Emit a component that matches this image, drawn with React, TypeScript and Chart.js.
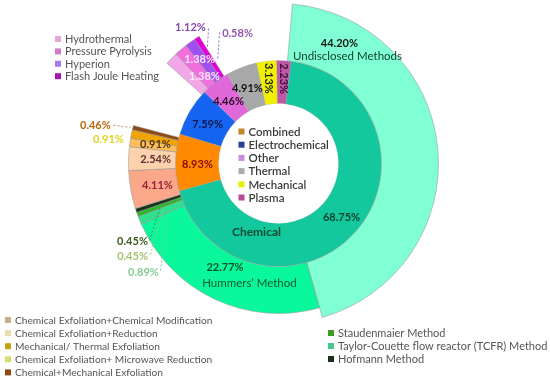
import React, { useEffect, useRef } from 'react';
import { Chart, registerables } from 'chart.js';

Chart.register(...registerables);

// ---------- DATA ----------
const categories = ['Chemical', 'Combined', 'Electrochemical', 'Other', 'Thermal', 'Mechanical', 'Plasma'];
const categoryShares = [68.75, 8.93, 7.59, 4.46, 4.91, 3.13, 2.23];

const chemicalMethods = [
  'Undisclosed Methods',
  "Hummers\u2019 Method",
  'Taylor-Couette flow reactor (TCFR) Method',
  'Staudenmaier Method',
  'Hofmann Method',
];
const chemicalShares = [44.2, 22.77, 0.89, 0.45, 0.45];

const combinedMethods = [
  'Chemical Exfoliation+Chemical Modification',
  'Chemical Exfoliation+Reduction',
  'Mechanical/ Thermal Exfoliation',
  'Chemical Exfoliation+ Microwave Reduction',
  'Chemical+Mechanical Exfoliation',
];
const combinedShares = [4.11, 2.54, 0.91, 0.91, 0.46];

const otherMethods = ['Hydrothermal', 'Pressure Pyrolysis', 'Hyperion', 'Flash Joule Heating'];
const otherShares = [1.38, 1.38, 1.12, 0.58];

// ---------- STYLE ----------
const FONT = 'Lato, "Open Sans", sans-serif';
const DESIGN_R = 160;

const categoryColors = ['#13C89C', '#FF8A00', '#1565F2', '#E068D8', '#A8A8A8', '#F0F000', '#C058A8'];
const categoryLegendColors = ['#13C89C', '#C4862C', '#27409C', '#C88CD8', '#ABABAB', '#E4F000', '#B94A9A'];
const chemicalColors = ['#80FFD4', '#0AF79C', '#2FE08E', '#28B828', '#183818'];
const chemicalLegendColors = ['#80FFD4', '#0AF79C', '#44C98E', '#3A9E22', '#1A2E1A'];
const combinedColors = ['#FBA88A', '#FFD2AE', '#FFBE5C', '#F0A400', '#8E4A12'];
const combinedLegendColors = ['#BFB08E', '#E8DCAE', '#C6A210', '#D8DE6E', '#8E4A12'];
const otherColors = ['#F2A8E8', '#F06EDE', '#A050F0', '#E400DC'];
const otherLegendColors = ['#E3A6D6', '#D57AC6', '#A77BE8', '#A515B0'];

const fullReach = 1;
const shortReach = 47 / 57;

const subGroups: Record<string, { shares: number[]; colors: string[]; reach: number[] }> = {
  Chemical: { shares: chemicalShares, colors: chemicalColors, reach: [fullReach, shortReach, shortReach, shortReach, shortReach] },
  Combined: { shares: combinedShares, colors: combinedColors, reach: combinedShares.map(() => shortReach) },
  Other: { shares: otherShares, colors: otherColors, reach: otherShares.map(() => shortReach) },
};

const outerValues: number[] = [];
const outerColors: string[] = [];
const outerBorders: number[] = [];
const outerReach: number[] = [];
categories.forEach((c, i) => {
  const g = subGroups[c];
  if (g) {
    g.shares.forEach((v, j) => {
      outerValues.push(v);
      outerColors.push(g.colors[j]);
      outerBorders.push(1);
      outerReach.push(g.reach[j]);
    });
  } else {
    outerValues.push(categoryShares[i]);
    outerColors.push('rgba(0,0,0,0)');
    outerBorders.push(0);
    outerReach.push(0);
  }
});

const pct = (v: number) => `${v.toFixed(2)}%`;

type Lbl = { text: string; ang: number; r: number; color: string; weight?: string; size?: number; rot?: number };
const labels: Lbl[] = [
  { text: pct(chemicalShares[0]), ang: 26.9, r: 134.6, color: '#151515' },
  { text: chemicalMethods[0], ang: 32.8, r: 127.3, color: '#0E3B30', weight: 'normal', size: 11.5 },
  { text: pct(categoryShares[0]), ang: 130.6, r: 83, color: '#0B3F2C' },
  { text: categories[0], ang: 197.7, r: 72.4, color: '#0B4A30', size: 12 },
  { text: pct(chemicalShares[1]), ang: 207.2, r: 117, color: '#0A5522' },
  { text: chemicalMethods[1], ang: 193.6, r: 123.5, color: '#0E5A32', weight: 'normal', size: 11.5 },
  { text: pct(categoryShares[1]), ang: 269.3, r: 81, color: '#8A0A0A' },
  { text: pct(categoryShares[2]), ang: 298.8, r: 81, color: '#0A1A4A' },
  { text: pct(categoryShares[3]), ang: 321.1, r: 79.6, color: '#2A0A2A' },
  { text: pct(categoryShares[4]), ang: 337.5, r: 81, color: '#111111' },
  { text: pct(categoryShares[5]), ang: 353.3, r: 85.6, color: '#222222', rot: 90 },
  { text: pct(categoryShares[6]), ang: 3.4, r: 85, color: '#3A0E3A', rot: 90 },
  { text: pct(otherShares[0]), ang: 322.8, r: 130.6, color: '#FFE6FF' },
  { text: pct(otherShares[1]), ang: 319.6, r: 114.2, color: '#FFE6FF' },
  { text: pct(otherShares[2]), ang: 327.1, r: 162, color: '#8A48A8' },
  { text: pct(otherShares[3]), ang: 342.5, r: 136.3, color: '#9456B0' },
  { text: pct(combinedShares[4]), ang: 281.7, r: 187, color: '#B8660E' },
  { text: pct(combinedShares[3]), ang: 278, r: 171.7, color: '#E2D21C' },
  { text: pct(combinedShares[2]), ang: 278.8, r: 124.5, color: '#4E3410' },
  { text: pct(combinedShares[1]), ang: 271.9, r: 123, color: '#5A3434' },
  { text: pct(combinedShares[0]), ang: 259.7, r: 123, color: '#9A2038' },
  { text: pct(chemicalShares[4]), ang: 241.9, r: 165.5, color: '#3A5A1E' },
  { text: pct(chemicalShares[3]), ang: 237.5, r: 173.1, color: '#A6C46E' },
  { text: pct(chemicalShares[2]), ang: 231.1, r: 173.5, color: '#84CC94' },
];

const leaders = [
  { from: [332.6, 152], to: [328.7, 136.9], color: '#9A6AB8' },
  { from: [335.8, 143.7], to: [329.4, 119.7], color: '#9A6AB8' },
  { from: [283, 169.3], to: [283.7, 152.3], color: '#C09050' },
  { from: [239.2, 150.2], to: [250, 125.6], color: '#5A8A4A' },
  { from: [234.6, 157], to: [248.6, 123.5], color: '#9AC07A' },
  { from: [227.8, 159.3], to: [246.9, 119.6], color: '#7ACB94' },
];

type LegendBlock = { names: string[]; colors: string[]; x: number; y: number; step: number; size: number; weight: string; color: string; relCenter?: boolean };
const legendBlocks: LegendBlock[] = [
  { names: otherMethods, colors: otherLegendColors, x: 55, y: 39, step: 12.4, size: 11, weight: 'normal', color: '#555555' },
  { names: categories.slice(1), colors: categoryLegendColors.slice(1), x: -40, y: -32, step: 13.2, size: 11.5, weight: '600', color: '#3A3A3A', relCenter: true },
  { names: combinedMethods, colors: combinedLegendColors, x: 5, y: 320, step: 13.1, size: 10.2, weight: 'normal', color: '#555555' },
  { names: [chemicalMethods[3], chemicalMethods[2], chemicalMethods[4]], colors: [chemicalLegendColors[3], chemicalLegendColors[2], chemicalLegendColors[4]], x: 328, y: 333, step: 13, size: 11, weight: 'normal', color: '#555555' },
];

const reachPlugin = {
  id: 'reach',
  afterDatasetUpdate(chart: any, args: any) {
    if (args.index !== 0) return;
    args.meta.data.forEach((el: any, i: number) => {
      const inner = el.innerRadius;
      const outer = el.outerRadius;
      el.outerRadius = inner + (outer - inner) * outerReach[i];
    });
  },
};

const overlayPlugin = {
  id: 'overlay',
  afterDatasetsDraw(chart: any) {
    const ctx: CanvasRenderingContext2D = chart.ctx;
    const meta = chart.getDatasetMeta(0);
    const arc = meta.data[0];
    const cx = arc.x;
    const cy = arc.y;
    const k = meta.controller.outerRadius / DESIGN_R;
    const pt = (ang: number, r: number) => {
      const a = ((ang - 90) * Math.PI) / 180;
      return [cx + Math.cos(a) * r * k, cy + Math.sin(a) * r * k];
    };
    ctx.save();
    ctx.lineWidth = 1;
    ctx.setLineDash([2, 2]);
    leaders.forEach((l) => {
      const [x1, y1] = pt(l.from[0], l.from[1]);
      const [x2, y2] = pt(l.to[0], l.to[1]);
      ctx.strokeStyle = l.color;
      ctx.beginPath();
      ctx.moveTo(x1, y1);
      ctx.lineTo(x2, y2);
      ctx.stroke();
    });
    ctx.setLineDash([]);
    ctx.textAlign = 'center';
    ctx.textBaseline = 'middle';
    labels.forEach((l) => {
      const [x, y] = pt(l.ang, l.r);
      ctx.save();
      ctx.translate(x, y);
      if (l.rot) ctx.rotate((l.rot * Math.PI) / 180);
      ctx.font = `${l.weight || 'bold'} ${l.size || 11}px ${FONT}`;
      ctx.fillStyle = l.color;
      ctx.fillText(l.text, 0, 0);
      ctx.restore();
    });
    ctx.textAlign = 'left';
    legendBlocks.forEach((b) => {
      const ox = b.relCenter ? cx + b.x : b.x;
      const oy = b.relCenter ? cy + b.y : b.y;
      ctx.font = `${b.weight} ${b.size}px ${FONT}`;
      b.names.forEach((n, i) => {
        const y = oy + i * b.step;
        ctx.fillStyle = b.colors[i];
        ctx.fillRect(ox, y - 3, 6, 6);
        ctx.fillStyle = b.color;
        ctx.fillText(n, ox + 10, y + 0.5);
      });
    });
    ctx.restore();
  },
};

export default function App() {
  const ref = useRef<HTMLCanvasElement>(null);
  useEffect(() => {
    if (!ref.current) return;
    const chart = new Chart(ref.current, {
      type: 'doughnut',
      data: {
        labels: outerValues.map((_, i) => String(i)),
        datasets: [
          {
            data: outerValues,
            backgroundColor: outerColors,
            borderColor: 'rgba(150,150,150,0.55)',
            borderWidth: outerBorders,
            weight: 57,
            rotation: 5,
          } as any,
          {
            data: categoryShares,
            backgroundColor: categoryColors,
            borderColor: 'rgba(150,150,150,0.35)',
            borderWidth: 0.5,
            weight: 43,
            rotation: 7,
          } as any,
        ],
      },
      options: {
        responsive: false,
        animation: false,
        events: [],
        cutout: '37.5%',
        hoverOffset: 0,
        layout: { padding: { left: 118, top: 3, right: 111, bottom: 58 } },
        plugins: { legend: { display: false }, tooltip: { enabled: false } },
      } as any,
      plugins: [reachPlugin, overlayPlugin],
    });
    return () => chart.destroy();
  }, []);
  return (
    <div style={{ position: 'absolute', left: 0, top: 0, width: 550, height: 382, background: '#fff' }}>
      <canvas ref={ref} width={550} height={382} style={{ display: 'block' }} />
    </div>
  );
}
